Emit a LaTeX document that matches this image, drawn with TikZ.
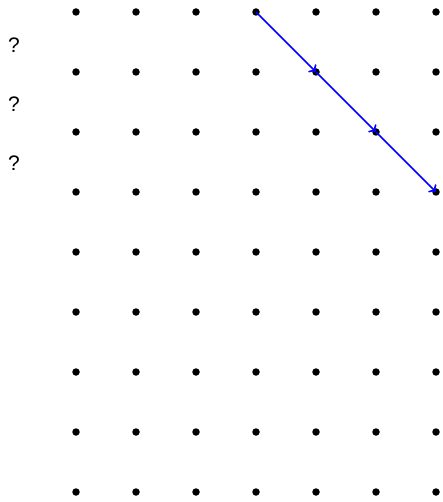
\documentclass[tikz,border=0pt]{standalone}
\usepackage{fontspec}
\setmainfont{Liberation Sans}
\usetikzlibrary{arrows.meta}
\begin{document}
\begin{tikzpicture}[x=1pt,y=-1pt,
  gdot/.style={circle,fill=black,inner sep=0pt,minimum size=7.5pt},
  qmark/.style={font=\fontsize{21}{24}\selectfont,inner sep=0pt},
  path/.style={blue,line width=1.6pt,-{To[length=6pt,width=11pt]}}]
\useasboundingbox (0,0) rectangle (442,502);
\foreach \r in {0,...,8}{
  \foreach \c in {0,...,6}{
    \node[gdot] (d-\r-\c) at ({76+60*\c},{12+60*\r}) {};
  }
}
\node[qmark] (q1) at (14,45) {?};
\node[qmark] (q2) at (14,104) {?};
\node[qmark] (q3) at (14,163) {?};
\draw[path] (d-0-3.center) -- (d-1-4.center);
\draw[path] (d-1-4.center) -- (d-2-5.center);
\draw[path] (d-2-5.center) -- (d-3-6.center);
\end{tikzpicture}
\end{document}
